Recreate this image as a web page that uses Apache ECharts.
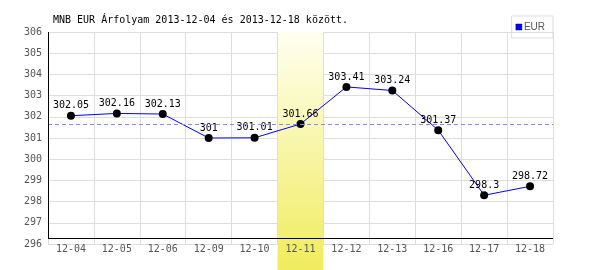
<!DOCTYPE html>
<html><head><meta charset="utf-8">
<script src="https://cdn.jsdelivr.net/npm/echarts@6/dist/echarts.min.js"></script>
<style>html,body{margin:0;padding:0;background:#fff}#c{width:600px;height:270px}</style>
</head><body><div id="c"></div>
<script>
const categories = ['12-04','12-05','12-06','12-09','12-10','12-11','12-12','12-13','12-16','12-17','12-18'];
const eurValues = [302.05,302.16,302.13,301,301.01,301.66,303.41,303.24,301.37,298.3,298.72];
const highlightCategory = '12-11';
const yMin = 296, yMax = 306, yStep = 1;
const titleText = 'MNB EUR Árfolyam 2013-12-04 és 2013-12-18 között.';
const seriesName = 'EUR';

const hiIdx = categories.indexOf(highlightCategory);
const bandData = categories.map((c, i) => i === hiIdx ? 1 : '-');
const mono = 'DejaVu Sans Mono';

const chart = echarts.init(document.getElementById('c'), null, {renderer: 'canvas'});
chart.setOption({
  animation: false,
  backgroundColor: '#fff',
  title: {text: titleText, left: 53, top: 15, padding: 0,
    textStyle: {fontFamily: mono, fontSize: 10, fontWeight: 'normal', color: '#000'}},
  legend: {data: [{name: seriesName, icon: 'rect', itemStyle: {color: '#0000ff', borderColor: '#000066', borderWidth: 0.5}}],
    right: 47, top: 16, orient: 'vertical',
    itemWidth: 6, itemHeight: 6, itemGap: 0, padding: [6, 8, 6, 4],
    borderColor: '#ddd', borderWidth: 1,
    textStyle: {fontFamily: 'Liberation Sans', fontSize: 10, color: '#555', padding: [0,0,0,-3]}},
  grid: [
    {left: 48, top: 32, width: 505, height: 212},
    {left: 48, top: 32, width: 505, bottom: 0}
  ],
  xAxis: [
    {type: 'category', data: categories, gridIndex: 0, boundaryGap: true, z: 3,
      axisLine: {show: false}, axisTick: {show: false},
      splitLine: {show: true, interval: 0, lineStyle: {color: '#ddd'}},
      axisLabel: {interval: 0, margin: 0, color: '#555', fontFamily: mono, fontSize: 10}},
    {type: 'category', data: categories, gridIndex: 1, show: false}
  ],
  yAxis: [
    {type: 'value', gridIndex: 0, min: yMin, max: yMax, interval: yStep, z: 0,
      axisLine: {show: false}, axisTick: {show: false},
      splitLine: {show: true, lineStyle: {color: '#ddd'}},
      axisLabel: {margin: 6, color: '#555', fontFamily: mono, fontSize: 10}},
    {type: 'value', gridIndex: 1, min: 0, max: 1, show: false}
  ],
  graphic: [
    {type: 'line', z: 10, shape: {x1: 48.5, y1: 32, x2: 48.5, y2: 238.5}, style: {stroke: '#000', lineWidth: 1}},
    {type: 'line', z: 10, shape: {x1: 48, y1: 238.5, x2: 553, y2: 238.5}, style: {stroke: '#000', lineWidth: 1}}
  ],
  series: [
    {type: 'line', name: 'avg', xAxisIndex: 0, yAxisIndex: 0, data: [], z: 1, silent: true,
      markLine: {symbol: 'none', silent: true, label: {show: false},
        lineStyle: {color: '#8888ff', type: [4, 3], width: 1},
        data: [{yAxis: eurValues[hiIdx]}]}},
    {type: 'bar', name: 'band', xAxisIndex: 1, yAxisIndex: 1, data: bandData, z: 2,
      barWidth: '100%', silent: true,
      itemStyle: {color: new echarts.graphic.LinearGradient(0, 0, 0, 1, [
        {offset: 0, color: '#fffff0'}, {offset: 1, color: '#f0ec5c'}])}},
    {type: 'line', name: seriesName, xAxisIndex: 0, yAxisIndex: 0, data: eurValues, z: 4,
      symbol: 'circle', symbolSize: 8, color: '#0000ff',
      lineStyle: {color: '#0000ff', width: 1},
      itemStyle: {color: '#000'},
      label: {show: true, position: 'top', distance: 1, color: '#000', fontFamily: mono, fontSize: 10}}
  ]
});
</script></body></html>
